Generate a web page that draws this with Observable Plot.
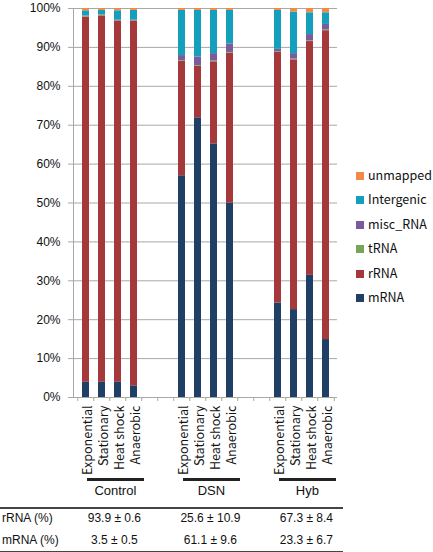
<!DOCTYPE html>
<html><head><meta charset="utf-8">
<script src="https://cdn.jsdelivr.net/npm/d3@7"></script>
<script src="https://cdn.jsdelivr.net/npm/@observablehq/plot@0.6"></script>
<style>
body{margin:0;background:#fff;}
#wrap{position:relative;width:433px;height:552px;overflow:hidden;font-family:"Noto Sans CJK KR","Noto Sans",sans-serif;}
#wrap svg{overflow:visible;}
#below{position:relative;width:433px;height:76px;font-family:"Liberation Sans",Arial,sans-serif;color:#111;}
.abs{position:absolute;}
.legend{position:absolute;left:356px;top:0;width:77px;height:320px;font-size:12.5px;color:#111;}
.legend .item{position:absolute;left:0;width:77px;white-space:nowrap;height:16px;line-height:16px;}
.legend .sw{position:absolute;left:0;top:4px;width:8px;height:8px;}
.legend .lb{position:absolute;left:12px;top:-1px;width:65px;}
</style></head><body><div id="wrap"></div>
<script>
const groups = ["Control", "DSN", "Hyb"];
const conditions = ["Exponential", "Stationary", "Heat shock", "Anaerobic"];
const series = ["mRNA", "rRNA", "tRNA", "misc_RNA", "Intergenic", "unmapped"];
const colors = ["#1f3f67", "#a5383a", "#77a55a", "#7a5c9d", "#14a0bd", "#f28a46"];
// values in %, order: Control(Exp,Stat,HS,Ana), DSN(...), Hyb(...)
const mRNA       = [3.9, 3.9, 3.9, 3.0,   57.0, 71.9, 65.2, 50.0,  24.3, 22.6, 31.4, 14.9];
const rRNA       = [93.9, 94.2, 92.9, 93.8, 29.4, 13.2, 21.1, 38.5, 64.4, 64.2, 60.1, 79.4];
const tRNA       = [0.2, 0.2, 0.1, 0.1,   0.2, 0.2, 0.2, 0.2,   0.2, 0.2, 0.2, 0.2];
const miscRNA    = [0.1, 0.1, 0.1, 0.1,   1.3, 2.2, 1.9, 2.2,   0.6, 1.4, 1.6, 1.4];
const intergenic = [1.3, 1.1, 2.4, 2.5,   11.6, 12.0, 11.1, 8.6, 10.0, 10.7, 5.6, 3.0];
const unmapped   = [0.6, 0.5, 0.6, 0.5,   0.5, 0.5, 0.5, 0.5,   0.5, 0.9, 1.1, 1.1];
const yTicks = [0, 10, 20, 30, 40, 50, 60, 70, 80, 90, 100];
const tableRows = ["rRNA (%)", "mRNA (%)"];
const rRNAsummary = ["93.9 ± 0.6", "25.6 ± 10.9", "67.3 ± 8.4"];
const mRNAsummary = ["3.5 ± 0.5", "61.1 ± 9.6", "23.3 ± 6.7"];

const valuesBySeries = [mRNA, rRNA, tRNA, miscRNA, intergenic, unmapped];

// slots: 4 bars per group, two empty slots between groups
const slots = [];
groups.forEach((g, gi) => {
  conditions.forEach(c => slots.push(g + "|" + c));
  if (gi < groups.length - 1) { slots.push("gap" + gi + "a"); slots.push("gap" + gi + "b"); }
});
const rows = [];
groups.forEach((g, gi) => conditions.forEach((c, ci) => {
  series.forEach((s, si) => rows.push({slot: g + "|" + c, series: s, value: valuesBySeries[si][gi * 4 + ci]}));
}));

const W = 433, H = 476, mL = 73, mR = 96, mT = 8, mB = 79;
const step = (W - mL - mR) / slots.length;
const label = s => s.includes("|") ? s.split("|")[1] : "";

const plot = Plot.plot({
  width: W, height: H,
  marginLeft: mL, marginRight: mR, marginTop: mT, marginBottom: mB,
  style: {fontFamily: '"Noto Sans CJK KR","Noto Sans",sans-serif', fontSize: "12px", color: "#111", background: "#fff", overflow: "visible"},
  x: {type: "band", domain: slots, paddingInner: 0.58, paddingOuter: 0.29, axis: null, label: null},
  y: {domain: [0, 100], axis: null, label: null},
  color: {domain: series, range: colors},
  marks: [
    Plot.gridY(yTicks, {stroke: "#a8a8a8", strokeOpacity: 1, strokeWidth: 1}),
    Plot.barY(rows, {x: "slot", y: "value", fill: "series"}),
    Plot.frame({anchor: "left", stroke: "#a8a8a8"}),
    Plot.axisY(yTicks, {tickFormat: d => d + "%", tickSize: 5, tickPadding: 8, stroke: "#a8a8a8", fill: "#111", fontSize: 12, fontFamily: '"Liberation Sans",Arial,sans-serif', label: null}),
    Plot.axisX(slots, {tickSize: 4, dx: -step / 2, tickFormat: () => "", stroke: "#a8a8a8", label: null}),
    Plot.axisX([slots[slots.length - 1]], {tickSize: 4, dx: step / 2, tickFormat: () => "", stroke: "#a8a8a8", label: null}),
    Plot.axisX(slots, {tickSize: 0, tickPadding: 8, tickRotate: -90, dx: 1.5, tickFormat: label, fill: "#111", fontSize: 12.5, label: null})
  ]
});

const wrap = document.getElementById("wrap");
wrap.appendChild(plot);

// legend on the right
const legend = document.createElement("div");
legend.className = "legend";
series.slice().reverse().forEach((s, i) => {
  const item = document.createElement("div");
  item.className = "item";
  item.style.top = (168 + i * 24.4) + "px";
  const sw = document.createElement("div");
  sw.className = "sw";
  sw.style.background = colors[series.indexOf(s)];
  const lb = document.createElement("div");
  lb.className = "lb";
  lb.textContent = s;
  item.appendChild(sw); item.appendChild(lb);
  legend.appendChild(item);
});
wrap.appendChild(legend);

// group underlines, names and summary table below
const xs = plot.scale("x");
const st = xs.step;
const below = document.createElement("div");
below.id = "below";
groups.forEach((g, gi) => {
  const first = xs.apply(g + "|" + conditions[0]);
  const last = xs.apply(g + "|" + conditions[conditions.length - 1]);
  const slotStart = first - st * 0.29;
  const slotEnd = last - st * 0.29 + st;
  const center = (slotStart + slotEnd) / 2;
  const line = document.createElement("div");
  line.className = "abs";
  line.style.cssText = `left:${slotStart + st * 0.6}px;width:${slotEnd + st * 0.15 - (slotStart + st * 0.6)}px;top:1.5px;height:3px;background:#222;`;
  below.appendChild(line);
  const name = document.createElement("div");
  name.className = "abs";
  name.style.cssText = `left:${center + 6 - 40}px;width:80px;text-align:center;top:6px;font-size:13px;line-height:17px;`;
  name.textContent = g;
  below.appendChild(name);
  [rRNAsummary, mRNAsummary].forEach((arr, ri) => {
    const v = document.createElement("div");
    v.className = "abs";
    v.style.cssText = `left:${center + 5 - 45}px;width:90px;text-align:center;top:${ri === 0 ? 34.5 : 57}px;font-size:12px;line-height:15px;`;
    v.textContent = arr[gi];
    below.appendChild(v);
  });
});
tableRows.forEach((r, ri) => {
  const v = document.createElement("div");
  v.className = "abs";
  v.style.cssText = `left:2px;width:70px;top:${ri === 0 ? 34.5 : 57}px;font-size:12px;line-height:15px;white-space:nowrap;`;
  v.textContent = r;
  below.appendChild(v);
});
const plotRight = W - mR + 6;
[31, 74.5].forEach(t => {
  const l = document.createElement("div");
  l.className = "abs";
  l.style.cssText = `left:0;width:${plotRight}px;top:${t}px;height:1.5px;background:#444;`;
  below.appendChild(l);
});
wrap.appendChild(below);
</script></body></html>
